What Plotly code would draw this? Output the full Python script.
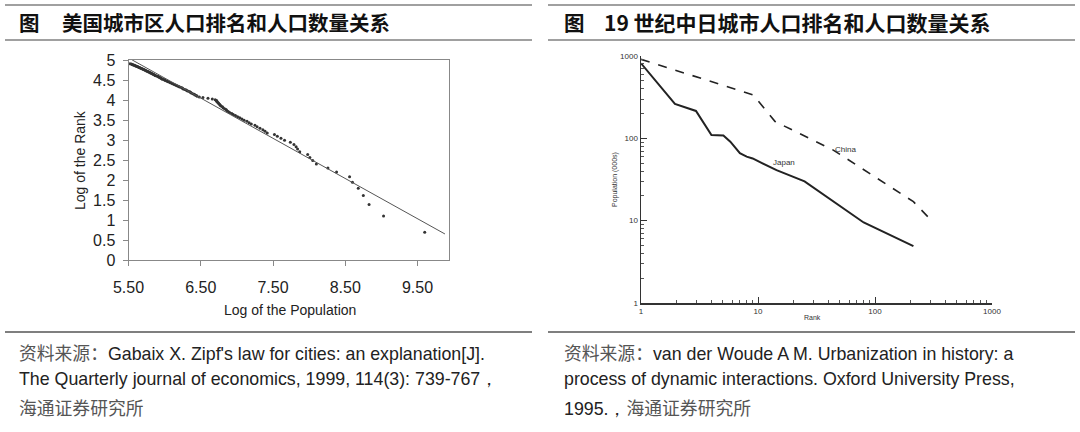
import numpy as np
import plotly.graph_objects as go

W, H = 1080, 432

# ---------------- Left chart data (US metro areas, Gabaix 1999) ----------------
us_rank = list(range(2, 136))
us_log_pop = [
    9.60, 9.03, 8.83, 8.75, 8.68, 8.60, 8.56, 8.38, 8.26,            # r2-10
    8.10, 8.05, 8.01, 7.98, 7.87, 7.84, 7.82, 7.79, 7.74, 7.66,      # r11-20
    7.61, 7.56, 7.52, 7.42, 7.39, 7.36, 7.32, 7.28, 7.25, 7.20,      # r21-30
    7.17, 7.14, 7.10, 7.07, 7.04, 7.01, 6.98, 6.95, 6.93, 6.90,      # r31-40
    6.88, 6.86, 6.85, 6.83, 6.81, 6.80, 6.78, 6.77, 6.76, 6.75,      # r41-50
    6.74, 6.73, 6.72, 6.72, 6.70, 6.66, 6.60, 6.53, 6.48, 6.45,      # r51-60
    6.44, 6.42, 6.41, 6.39, 6.37, 6.36, 6.35, 6.33, 6.31, 6.30,      # r61-70
    6.28, 6.26, 6.25, 6.24, 6.22, 6.20, 6.19, 6.17, 6.16, 6.14,      # r71-80
    6.13, 6.11, 6.10, 6.08, 6.07, 6.05, 6.04, 6.03, 6.01, 6.00,      # r81-90
    5.99, 5.97, 5.96, 5.95, 5.94, 5.93, 5.92, 5.91, 5.90, 5.88,      # r91-100
    5.87, 5.86, 5.85, 5.84, 5.83, 5.82, 5.81, 5.80, 5.79, 5.78,      # r101-110
    5.77, 5.76, 5.75, 5.74, 5.73, 5.72, 5.71, 5.70, 5.69, 5.68,      # r111-120
    5.67, 5.66, 5.65, 5.64, 5.63, 5.62, 5.61, 5.60, 5.59, 5.58,      # r121-130
    5.57, 5.56, 5.55, 5.54, 5.52,                                    # r131-135
]
fit_intercept = 10.58
fit_slope = -1.005
fit_x_ends = [5.55, 9.88]

left_xticks = [5.5, 6.5, 7.5, 8.5, 9.5]
left_xticklabels = ["5.50", "6.50", "7.50", "8.50", "9.50"]
left_yticks = [0, 0.5, 1, 1.5, 2, 2.5, 3, 3.5, 4, 4.5, 5]
left_yticklabels = ["0", "0.5", "1", "1.5", "2", "2.5", "3", "3.5", "4", "4.5", "5"]

# ---------------- Right chart data (19th century China / Japan) ----------------
japan_rank = [1, 1.95, 2.95, 4.0, 5.06, 5.8, 7.0, 8.0, 9.0, 14.4, 25, 80, 213]
japan_pop = [815, 262, 215, 110, 108, 91, 66, 60, 57, 41, 30, 9.5, 4.9]
china_rank = [1, 9.1, 14, 44, 213, 309]
china_pop = [912, 337, 160, 72, 17, 9.8]

right_ticks = [1, 10, 100, 1000]
right_ticklabels = ["1", "10", "100", "1000"]
minor_vals = [m * d for d in (1, 10, 100) for m in range(2, 10)]

# ---------------- helpers ----------------
def px(x):
    return x / W

def py(y):
    return 1 - y / H

fig = go.Figure()

# Left scatter + fit line
us_log_rank = np.log(np.array(us_rank, dtype=float))
fig.add_trace(go.Scatter(
    x=us_log_pop, y=us_log_rank, mode="markers",
    marker=dict(size=3, color="#333333"),
    xaxis="x", yaxis="y", showlegend=False, hoverinfo="skip"))
fit_y = [fit_intercept + fit_slope * v for v in fit_x_ends]
fig.add_trace(go.Scatter(
    x=fit_x_ends, y=fit_y, mode="lines",
    line=dict(color="#555555", width=1),
    xaxis="x", yaxis="y", showlegend=False, hoverinfo="skip"))

# Right lines
fig.add_trace(go.Scatter(
    x=china_rank, y=china_pop, mode="lines",
    line=dict(color="#222222", width=1.6, dash="dash"),
    xaxis="x2", yaxis="y2", showlegend=False, hoverinfo="skip"))
fig.add_trace(go.Scatter(
    x=japan_rank, y=japan_pop, mode="lines",
    line=dict(color="#222222", width=2),
    xaxis="x2", yaxis="y2", showlegend=False, hoverinfo="skip"))

tick_font = dict(family="Liberation Sans, Arial, sans-serif", size=16, color="#222222")
small_font = dict(family="Liberation Sans, Arial, sans-serif", size=8, color="#333333")

fig.update_layout(
    width=W, height=H, autosize=False,
    margin=dict(l=0, r=0, t=0, b=0, pad=0, autoexpand=False),
    paper_bgcolor="white", plot_bgcolor="white",
    showlegend=False,
    xaxis=dict(
        domain=[px(128.5), px(449)], range=[5.5, 9.936],
        tickmode="array", tickvals=left_xticks, ticktext=left_xticklabels,
        ticks="outside", ticklen=5, tickcolor="#888888", tickwidth=1,
        showline=True, linecolor="#888888", linewidth=1, mirror=True,
        showgrid=False, zeroline=False, tickfont=tick_font,
        ticklabelstandoff=8, anchor="y", automargin=False),
    yaxis=dict(
        domain=[py(260), py(60)], range=[0, 5],
        tickmode="array", tickvals=left_yticks, ticktext=left_yticklabels,
        ticks="outside", ticklen=5, tickcolor="#888888", tickwidth=1,
        showline=True, linecolor="#888888", linewidth=1, mirror=True,
        showgrid=False, zeroline=False, tickfont=tick_font,
        ticklabelstandoff=4, anchor="x", automargin=False),
    xaxis2=dict(
        domain=[px(641), px(992)], type="log", range=[0, 3],
        tickmode="array", tickvals=right_ticks, ticktext=right_ticklabels,
        ticks="inside", ticklen=6, tickcolor="#333333", tickwidth=1,
        minor=dict(tickmode="array", tickvals=minor_vals, ticks="inside",
                   ticklen=3, tickcolor="#555555", showgrid=False),
        showline=True, linecolor="#333333", linewidth=1.5,
        showgrid=False, zeroline=False, tickfont=small_font, anchor="y2",
        automargin=False),
    yaxis2=dict(
        domain=[py(303), py(56)], type="log", range=[0, 3],
        tickmode="array", tickvals=right_ticks, ticktext=right_ticklabels,
        ticks="inside", ticklen=6, tickcolor="#333333", tickwidth=1,
        minor=dict(tickmode="array", tickvals=minor_vals, ticks="inside",
                   ticklen=3, tickcolor="#555555", showgrid=False),
        showline=True, linecolor="#333333", linewidth=1.5,
        showgrid=False, zeroline=False, tickfont=small_font, anchor="x2",
        automargin=False),
)

# ---------------- decoration lines ----------------
shapes = []
for (x0, x1) in [(5, 532), (548, 1075)]:
    for yy in (5, 40):
        shapes.append(dict(type="line", xref="paper", yref="paper",
                           x0=px(x0), x1=px(x1), y0=py(yy), y1=py(yy),
                           line=dict(color="#a0a0a0", width=2)))
    shapes.append(dict(type="line", xref="paper", yref="paper",
                       x0=px(x0), x1=px(x1), y0=py(332), y1=py(332),
                       line=dict(color="#555555", width=1.5)))
fig.update_layout(shapes=shapes)

# ---------------- text ----------------
cjk_bold = "Noto Sans CJK SC, sans-serif"
ann = []

def add_text(text, x, y, size, color="#111111", family=cjk_bold, xanchor="left",
             textangle=0, yanchor="middle"):
    ann.append(dict(text=text, x=px(x), y=py(y), xref="paper", yref="paper",
                    showarrow=False, xanchor=xanchor, yanchor=yanchor,
                    textangle=textangle,
                    font=dict(family=family, size=size, color=color)))

# titles
add_text("<b>图</b>", 17, 22, 20.5)
add_text("<b>美国城市区人口排名和人口数量关系</b>", 60, 22, 20.5)
add_text("<b>图</b>", 562, 22, 20.5)
add_text("<b>19 世纪中日城市人口排名和人口数量关系</b>", 602, 22, 21)

# axis titles (left)
add_text("Log of the Rank", 80, 160, 14, color="#222222",
         family="Liberation Sans, Arial, sans-serif", xanchor="center", textangle=-90)
add_text("Log of the Population", 290, 310, 14, color="#222222",
         family="Liberation Sans, Arial, sans-serif", xanchor="center")

# axis titles (right)
add_text("Population (000s)", 615, 180, 7, color="#333333",
         family="Liberation Sans, Arial, sans-serif", xanchor="center", textangle=-90)
add_text("Rank", 812, 317, 7, color="#333333",
         family="Liberation Sans, Arial, sans-serif", xanchor="center")

# series labels
ann.append(dict(text="Japan", x=np.log10(16.7), y=np.log10(51), xref="x2", yref="y2",
                showarrow=False, font=dict(family="Liberation Sans, Arial, sans-serif",
                                           size=8, color="#333333")))
ann.append(dict(text="China", x=np.log10(56.5), y=np.log10(74), xref="x2", yref="y2",
                showarrow=False, font=dict(family="Liberation Sans, Arial, sans-serif",
                                           size=8, color="#333333")))

# sources
src_font_en = "Liberation Sans, Arial, sans-serif"
src_size = 17.8
src_cn = "<span style='font-family:Noto Sans CJK SC;color:#555555'>资料来源：</span>"
src_cn2 = "<span style='font-family:Noto Sans CJK SC;color:#555555'>海通证券研究所</span>"
add_text(src_cn + "Gabaix X. Zipf's law for cities: an explanation[J].", 17, 352, src_size,
         color="#222222", family=src_font_en)
add_text("The Quarterly journal of economics, 1999, 114(3): 739-767，", 17, 379, src_size,
         color="#222222", family=src_font_en)
add_text(src_cn2, 17, 407, src_size, color="#555555", family=src_font_en)

add_text(src_cn + "van der Woude A M. Urbanization in history: a", 562, 352, src_size,
         color="#222222", family=src_font_en)
add_text("process of dynamic interactions. Oxford University Press,", 562, 379, src_size,
         color="#222222", family=src_font_en)
add_text("1995.，" + src_cn2, 562, 407, src_size, color="#222222", family=src_font_en)

fig.update_layout(annotations=ann)

fig.write_html("out.html",
               config={"displayModeBar": False, "staticPlot": True},
               post_script="document.body.style.margin='0px';document.body.style.overflow='hidden';")
